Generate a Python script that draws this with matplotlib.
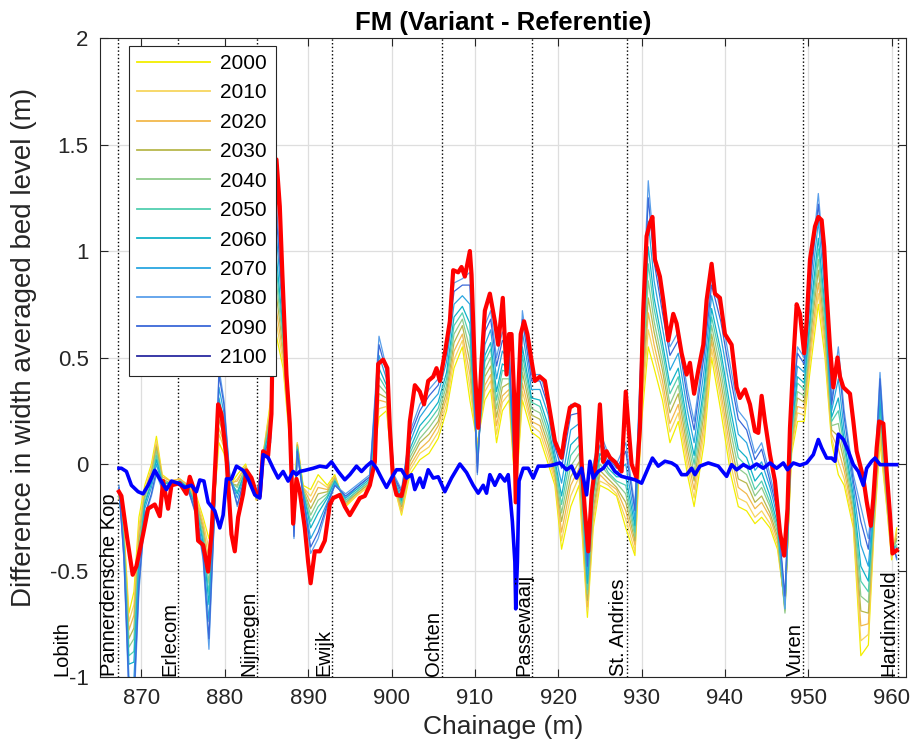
import matplotlib
matplotlib.use("Agg")
import matplotlib.pyplot as plt

plt.rcParams['font.family'] = ['Liberation Sans', 'DejaVu Sans']

# chainage of the yearly profiles (km)
km_years = [867.3, 867.9, 868.5, 869.1, 869.7, 870.4, 871.2, 871.8, 872.5, 873.5,
            874.6, 875.6, 876.6, 877.4, 878.1, 878.7, 879.3, 879.9, 880.6, 881.5,
            882.5, 883.8, 884.8, 885.5, 886.2, 887.0, 887.8, 888.3, 888.7, 889.4,
            890.3, 891.2, 892.3, 893.2, 894.5, 895.8, 897.4, 898.5, 899.4, 900.3,
            901.2, 902.2, 903.4, 904.5, 905.6, 906.6, 907.5, 908.5, 909.4, 910.3,
            911.2, 911.9, 912.6, 913.3, 914.1, 914.9, 915.7, 916.8, 917.8, 918.8,
            919.6, 920.4, 921.5, 922.5, 923.5, 924.2, 925.0, 926.0, 927.0, 928.1,
            929.2, 930.0, 930.8, 931.5, 932.5, 933.4, 934.4, 935.5, 936.3, 937.5,
            938.4, 939.5, 940.7, 941.6, 942.6, 943.6, 944.4, 945.4, 946.3, 947.2,
            948.0, 948.7, 949.5, 950.4, 951.2, 952.0, 952.8, 953.6, 954.3, 955.4,
            956.3, 957.2, 957.9, 958.6, 959.4, 960.0, 960.6]

y2000 = [-0.15, -0.30, -0.70, -0.60, -0.25, -0.10, 0.00, 0.13, -0.05, -0.08,
         -0.07, -0.10, -0.15, -0.25, -0.35, -0.20, 0.10, 0.05, -0.10, -0.05,
         0.00, -0.17, 0.10, 0.30, 0.60, 0.45, 0.10, -0.20, 0.10, -0.10,
         -0.12, -0.05, -0.10, -0.05, -0.20, -0.15, -0.10, 0.22, 0.25, -0.10,
         -0.24, -0.05, 0.02, 0.05, 0.12, 0.25, 0.45, 0.55, 0.30, 0.10,
         0.30, 0.35, 0.10, 0.25, 0.30, -0.15, 0.30, 0.15, 0.12, 0.00,
         -0.10, -0.40, -0.20, -0.10, -0.72, -0.30, -0.10, -0.12, -0.15, -0.30,
         -0.43, 0.20, 0.55, 0.45, 0.30, 0.10, 0.20, -0.05, -0.20, 0.10,
         0.50, 0.25, -0.05, -0.20, -0.22, -0.28, -0.25, -0.30, -0.40, -0.66,
         0.05, 0.20, 0.20, 0.50, 0.75, 0.50, 0.10, -0.05, -0.10, -0.30,
         -0.90, -0.85, -0.30, 0.10, -0.20, -0.45, -0.30]
y2010 = [-0.15, -0.32, -0.74, -0.66, -0.29, -0.12, -0.02, 0.11, -0.06, -0.08,
         -0.07, -0.10, -0.16, -0.27, -0.40, -0.21, 0.14, 0.08, -0.10, -0.07,
         -0.01, -0.17, 0.10, 0.28, 0.66, 0.48, 0.11, -0.22, 0.10, -0.11,
         -0.15, -0.08, -0.11, -0.06, -0.19, -0.15, -0.10, 0.26, 0.27, -0.10,
         -0.23, -0.03, 0.05, 0.08, 0.15, 0.28, 0.49, 0.58, 0.36, 0.09,
         0.34, 0.39, 0.14, 0.29, 0.33, -0.15, 0.34, 0.18, 0.15, 0.03,
         -0.08, -0.36, -0.15, -0.06, -0.69, -0.27, -0.08, -0.10, -0.14, -0.26,
         -0.41, 0.24, 0.63, 0.51, 0.35, 0.15, 0.24, -0.01, -0.16, 0.15,
         0.54, 0.30, 0.00, -0.16, -0.18, -0.25, -0.22, -0.28, -0.38, -0.67,
         0.07, 0.24, 0.23, 0.55, 0.80, 0.54, 0.12, 0.01, -0.07, -0.28,
         -0.83, -0.80, -0.28, 0.13, -0.19, -0.44, -0.32]
y2020 = [-0.14, -0.33, -0.78, -0.71, -0.32, -0.13, -0.03, 0.09, -0.06, -0.08,
         -0.07, -0.10, -0.17, -0.29, -0.45, -0.22, 0.17, 0.10, -0.09, -0.08,
         -0.01, -0.17, 0.09, 0.26, 0.72, 0.51, 0.12, -0.23, 0.09, -0.11,
         -0.18, -0.11, -0.12, -0.06, -0.19, -0.14, -0.09, 0.30, 0.29, -0.09,
         -0.22, -0.01, 0.07, 0.11, 0.18, 0.31, 0.53, 0.61, 0.42, 0.07,
         0.37, 0.42, 0.18, 0.32, 0.35, -0.14, 0.38, 0.20, 0.18, 0.06,
         -0.06, -0.32, -0.10, -0.02, -0.67, -0.24, -0.05, -0.09, -0.12, -0.22,
         -0.38, 0.28, 0.71, 0.56, 0.39, 0.19, 0.28, 0.03, -0.12, 0.19,
         0.58, 0.34, 0.05, -0.11, -0.14, -0.21, -0.18, -0.25, -0.36, -0.68,
         0.09, 0.27, 0.26, 0.59, 0.85, 0.58, 0.14, 0.07, -0.03, -0.25,
         -0.76, -0.75, -0.26, 0.17, -0.17, -0.43, -0.33]
y2030 = [-0.14, -0.35, -0.82, -0.77, -0.36, -0.15, -0.05, 0.08, -0.07, -0.09,
         -0.08, -0.11, -0.18, -0.31, -0.51, -0.23, 0.21, 0.13, -0.09, -0.10,
         -0.02, -0.16, 0.09, 0.24, 0.79, 0.54, 0.13, -0.25, 0.09, -0.12,
         -0.21, -0.14, -0.13, -0.07, -0.18, -0.14, -0.09, 0.33, 0.31, -0.09,
         -0.20, 0.01, 0.10, 0.14, 0.20, 0.34, 0.57, 0.65, 0.48, 0.06,
         0.41, 0.46, 0.22, 0.36, 0.38, -0.14, 0.43, 0.23, 0.21, 0.09,
         -0.04, -0.27, -0.06, 0.01, -0.64, -0.21, -0.03, -0.07, -0.11, -0.18,
         -0.36, 0.32, 0.78, 0.62, 0.44, 0.24, 0.33, 0.07, -0.08, 0.24,
         0.61, 0.39, 0.10, -0.07, -0.09, -0.18, -0.15, -0.23, -0.34, -0.69,
         0.11, 0.31, 0.29, 0.64, 0.91, 0.62, 0.16, 0.13, 0.01, -0.23,
         -0.69, -0.70, -0.24, 0.20, -0.16, -0.42, -0.35]
y2040 = [-0.13, -0.36, -0.86, -0.82, -0.39, -0.16, -0.06, 0.06, -0.08, -0.09,
         -0.08, -0.11, -0.19, -0.33, -0.56, -0.24, 0.24, 0.15, -0.08, -0.11,
         -0.02, -0.16, 0.08, 0.22, 0.85, 0.57, 0.14, -0.26, 0.08, -0.12,
         -0.24, -0.17, -0.14, -0.07, -0.18, -0.13, -0.08, 0.37, 0.33, -0.08,
         -0.19, 0.03, 0.12, 0.17, 0.23, 0.37, 0.61, 0.68, 0.54, 0.04,
         0.44, 0.50, 0.26, 0.40, 0.40, -0.13, 0.47, 0.26, 0.24, 0.12,
         -0.02, -0.23, -0.01, 0.05, -0.61, -0.18, 0.00, -0.05, -0.09, -0.14,
         -0.34, 0.36, 0.86, 0.67, 0.48, 0.28, 0.37, 0.11, -0.04, 0.28,
         0.65, 0.44, 0.15, -0.02, -0.05, -0.15, -0.11, -0.20, -0.32, -0.70,
         0.13, 0.34, 0.32, 0.68, 0.96, 0.66, 0.18, 0.19, 0.04, -0.20,
         -0.62, -0.65, -0.22, 0.23, -0.14, -0.41, -0.36]
y2050 = [-0.13, -0.38, -0.90, -0.88, -0.43, -0.18, -0.08, 0.04, -0.09, -0.09,
         -0.08, -0.11, -0.20, -0.35, -0.61, -0.25, 0.28, 0.18, -0.08, -0.13,
         -0.03, -0.16, 0.08, 0.20, 0.91, 0.60, 0.15, -0.28, 0.08, -0.13,
         -0.27, -0.20, -0.15, -0.08, -0.17, -0.13, -0.08, 0.41, 0.35, -0.08,
         -0.18, 0.05, 0.15, 0.20, 0.26, 0.40, 0.65, 0.71, 0.60, 0.03,
         0.48, 0.54, 0.30, 0.44, 0.43, -0.13, 0.51, 0.29, 0.27, 0.15,
         0.00, -0.19, 0.04, 0.09, -0.59, -0.15, 0.03, -0.04, -0.08, -0.10,
         -0.32, 0.40, 0.94, 0.73, 0.53, 0.33, 0.41, 0.15, 0.00, 0.33,
         0.69, 0.49, 0.20, 0.03, -0.01, -0.12, -0.08, -0.18, -0.30, -0.68,
         0.15, 0.38, 0.35, 0.73, 1.01, 0.70, 0.20, 0.25, 0.08, -0.18,
         -0.55, -0.60, -0.20, 0.27, -0.13, -0.40, -0.38]
y2060 = [-0.12, -0.39, -0.94, -0.93, -0.46, -0.19, -0.09, 0.02, -0.09, -0.09,
         -0.08, -0.11, -0.21, -0.37, -0.66, -0.26, 0.31, 0.20, -0.07, -0.14,
         -0.03, -0.16, 0.07, 0.18, 0.97, 0.63, 0.16, -0.29, 0.07, -0.13,
         -0.30, -0.23, -0.16, -0.08, -0.16, -0.12, -0.07, 0.45, 0.37, -0.07,
         -0.17, 0.07, 0.18, 0.23, 0.29, 0.43, 0.69, 0.74, 0.66, 0.01,
         0.51, 0.57, 0.34, 0.47, 0.45, -0.12, 0.55, 0.31, 0.30, 0.18,
         0.02, -0.15, 0.09, 0.13, -0.56, -0.12, 0.05, -0.02, -0.06, -0.06,
         -0.29, 0.44, 1.02, 0.78, 0.57, 0.37, 0.45, 0.19, 0.04, 0.37,
         0.73, 0.53, 0.25, 0.07, 0.03, -0.08, -0.04, -0.15, -0.28, -0.66,
         0.17, 0.41, 0.38, 0.77, 1.06, 0.74, 0.22, 0.31, 0.11, -0.15,
         -0.48, -0.55, -0.18, 0.30, -0.11, -0.39, -0.39]
y2070 = [-0.11, -0.41, -1.00, -1.01, -0.51, -0.21, -0.11, 0.00, -0.10, -0.10,
         -0.09, -0.12, -0.23, -0.40, -0.74, -0.28, 0.36, 0.24, -0.06, -0.16,
         -0.04, -0.16, 0.06, 0.15, 1.07, 0.68, 0.18, -0.31, 0.06, -0.14,
         -0.35, -0.28, -0.18, -0.09, -0.16, -0.11, -0.06, 0.51, 0.40, -0.06,
         -0.15, 0.10, 0.22, 0.28, 0.33, 0.48, 0.75, 0.79, 0.75, -0.01,
         0.56, 0.63, 0.40, 0.53, 0.49, -0.11, 0.62, 0.35, 0.35, 0.23,
         0.05, -0.09, 0.16, 0.19, -0.52, -0.08, 0.09, 0.01, -0.04, 0.00,
         -0.26, 0.50, 1.14, 0.86, 0.64, 0.44, 0.52, 0.25, 0.10, 0.44,
         0.79, 0.60, 0.33, 0.14, 0.10, -0.03, 0.01, -0.11, -0.25, -0.64,
         0.20, 0.46, 0.43, 0.84, 1.14, 0.80, 0.25, 0.40, 0.16, -0.11,
         -0.38, -0.48, -0.15, 0.35, -0.09, -0.38, -0.41]
y2080 = [-0.10, -0.45, -1.10, -1.15, -0.60, -0.25, -0.15, -0.05, -0.12, -0.10,
         -0.09, -0.12, -0.25, -0.45, -0.87, -0.30, 0.45, 0.30, -0.05, -0.20,
         -0.05, -0.15, 0.05, 0.10, 1.22, 0.75, 0.20, -0.35, 0.05, -0.15,
         -0.42, -0.35, -0.20, -0.10, -0.14, -0.10, -0.05, 0.60, 0.45, -0.05,
         -0.12, 0.15, 0.28, 0.35, 0.40, 0.55, 0.85, 0.87, 0.90, -0.05,
         0.65, 0.72, 0.50, 0.62, 0.55, -0.10, 0.72, 0.42, 0.42, 0.30,
         0.10, 0.02, 0.28, 0.28, -0.45, 0.00, 0.15, 0.05, 0.00, 0.10,
         -0.20, 0.60, 1.33, 1.00, 0.75, 0.55, 0.62, 0.35, 0.20, 0.55,
         0.88, 0.72, 0.45, 0.25, 0.20, 0.05, 0.10, -0.05, -0.20, -0.68,
         0.25, 0.55, 0.50, 0.95, 1.27, 0.90, 0.30, 0.55, 0.25, -0.05,
         -0.20, -0.35, -0.10, 0.43, -0.05, -0.35, -0.45]
y2090 = [-0.11, -0.44, -1.06, -1.10, -0.57, -0.24, -0.14, -0.03, -0.11, -0.10,
         -0.09, -0.12, -0.24, -0.43, -0.82, -0.29, 0.42, 0.28, -0.06, -0.19,
         -0.05, -0.15, 0.06, 0.12, 1.16, 0.72, 0.19, -0.34, 0.06, -0.15,
         -0.39, -0.32, -0.19, -0.10, -0.15, -0.11, -0.06, 0.56, 0.43, -0.06,
         -0.13, 0.13, 0.25, 0.32, 0.37, 0.52, 0.81, 0.84, 0.84, -0.04,
         0.62, 0.68, 0.46, 0.58, 0.53, -0.11, 0.68, 0.39, 0.39, 0.27,
         0.08, -0.02, 0.23, 0.24, -0.48, -0.03, 0.13, 0.03, -0.02, 0.06,
         -0.22, 0.56, 1.25, 0.95, 0.71, 0.51, 0.58, 0.31, 0.16, 0.51,
         0.84, 0.67, 0.40, 0.21, 0.16, 0.02, 0.07, -0.08, -0.22, -0.62,
         0.23, 0.52, 0.47, 0.91, 1.22, 0.86, 0.28, 0.49, 0.22, -0.08,
         -0.27, -0.40, -0.12, 0.40, -0.07, -0.36, -0.44]

# final year, drawn thick red on top
km_2100 = [867.3, 867.6, 868.3, 868.95, 869.4, 870.2, 870.8, 871.6, 872.2, 872.6,
           873.2, 873.6, 874.6, 875.4, 875.8, 876.4, 876.8, 877.4, 878.0, 878.4,
           878.8, 879.2, 879.6, 880.2, 880.8, 881.2, 881.6, 882.2, 882.6, 883.2,
           883.8, 884.2, 884.6, 885.2, 885.6, 885.8, 886.2, 886.6, 886.9, 887.4,
           887.8, 888.2, 888.6, 889.0, 889.6, 890.0, 890.3, 890.8, 891.4, 892.0,
           892.6, 893.0, 893.8, 894.4, 895.0, 895.6, 896.2, 896.8, 897.4, 898.0,
           898.4, 899.0, 899.5, 899.8, 900.2, 900.6, 901.2, 901.8, 902.2, 902.8,
           903.4, 903.9, 904.4, 905.0, 905.4, 905.8, 906.4, 907.0, 907.4, 908.0,
           908.4, 908.8, 909.4, 909.6, 910.0, 910.4, 910.8, 911.2, 911.8, 912.4,
           912.8, 913.35, 913.8, 914.1, 914.4, 914.7, 914.9, 915.2, 915.5, 915.9,
           916.3, 916.8, 917.2, 917.8, 918.4, 919.0, 919.6, 920.4, 920.8, 921.4,
           922.0, 922.5, 922.8, 923.2, 923.6, 924.0, 924.6, 925.0, 925.4, 925.8,
           926.2, 926.8, 927.6, 928.1, 928.4, 928.8, 929.4, 929.8, 930.2, 930.6,
           931.0, 931.3, 931.6, 932.2, 932.6, 933.2, 933.8, 934.2, 934.8, 935.4,
           935.8, 936.3, 936.8, 937.4, 937.8, 938.4, 938.8, 939.4, 940.0, 940.8,
           941.4, 941.8, 942.4, 943.0, 943.6, 944.0, 944.4, 944.8, 945.4, 946.0,
           946.6, 947.1, 947.5, 947.8, 948.2, 948.6, 949.0, 949.5, 949.8, 950.2,
           950.8, 951.2, 951.6, 951.9, 952.2, 952.6, 953.0, 953.5, 953.8, 954.2,
           955.0, 955.4, 955.8, 956.6, 957.0, 957.5, 957.8, 958.2, 958.5, 959.0,
           959.4, 959.8, 960.1, 960.6]
y2100 = [-0.13, -0.15, -0.35, -0.52, -0.48, -0.33, -0.21, -0.19, -0.245, -0.08,
         -0.21, -0.10, -0.09, -0.14, -0.06, -0.13, -0.36, -0.38, -0.505, -0.33,
         -0.05, 0.28, 0.235, 0.03, -0.33, -0.41, -0.25, -0.14, -0.03, -0.065,
         -0.14, -0.15, 0.06, 0.04, 0.235, 0.74, 1.43, 1.21, 0.90, 0.42,
         0.19, -0.28, -0.07, -0.13, -0.30, -0.46, -0.56, -0.41, -0.41, -0.36,
         -0.19, -0.16, -0.145, -0.20, -0.24, -0.20, -0.16, -0.15, -0.10, 0.01,
         0.47, 0.49, 0.45, 0.17, -0.08, -0.145, -0.15, -0.05, 0.20, 0.37,
         0.34, 0.28, 0.39, 0.41, 0.45, 0.39, 0.52, 0.67, 0.91, 0.90,
         0.925, 0.88, 1.00, 0.89, 0.44, 0.17, 0.48, 0.72, 0.80, 0.67,
         0.56, 0.78, 0.42, 0.61, 0.61, 0.33, -0.18, 0.33, 0.61, 0.67,
         0.61, 0.485, 0.39, 0.41, 0.39, 0.25, 0.107, 0.03, 0.14, 0.265,
         0.28, 0.27, 0.01, -0.22, -0.41, -0.145, 0.04, 0.28, 0.01, 0.06,
         0.03, 0.01, -0.035, 0.34, 0.19, 0.00, -0.066, 0.17, 0.72, 1.07,
         1.13, 1.16, 0.96, 0.88, 0.77, 0.58, 0.705, 0.66, 0.52, 0.42,
         0.475, 0.33, 0.44, 0.56, 0.77, 0.94, 0.80, 0.78, 0.61, 0.56,
         0.36, 0.31, 0.35, 0.28, 0.154, 0.146, 0.32, 0.20, 0.044, -0.08,
         -0.32, -0.43, -0.21, 0.17, 0.485, 0.75, 0.705, 0.52, 0.67, 0.96,
         1.115, 1.16, 1.145, 1.02, 0.80, 0.55, 0.36, 0.50, 0.41, 0.36,
         0.33, 0.20, 0.06, -0.066, -0.176, -0.29, -0.16, 0.076, 0.20, 0.19,
         -0.035, -0.24, -0.42, -0.405]

# first profile, thick blue
km_first = [867.3, 867.6, 868.2, 868.8, 869.6, 870.2, 870.8, 871.6, 872.2, 873.0,
            873.6, 874.4, 875.2, 876.0, 876.6, 877.0, 877.5, 878.0, 878.8, 879.4,
            879.8, 880.2, 880.8, 881.4, 882.2, 882.8, 883.6, 884.2, 884.6, 885.2,
            885.8, 886.4, 887.0, 887.6, 888.2, 888.6, 889.0, 889.6, 890.6, 891.4,
            892.2, 892.8, 893.6, 894.4, 895.0, 895.8, 896.4, 897.0, 897.6, 898.2,
            898.8, 899.4, 900.0, 900.6, 901.2, 901.8, 902.4, 902.8, 903.4, 903.8,
            904.4, 905.0, 905.6, 906.4, 907.2, 908.2, 909.0, 909.8, 910.4, 911.0,
            911.4, 911.8, 912.4, 913.0, 913.6, 914.0, 914.5, 914.8, 914.9, 915.1,
            915.3, 915.8, 916.4, 917.0, 917.6, 918.4, 919.2, 920.2, 921.0, 921.6,
            922.2, 922.8, 923.4, 923.8, 924.2, 924.8, 925.4, 926.0, 926.8, 927.6,
            928.4, 929.2, 930.0, 930.6, 931.3, 932.0, 932.8, 933.6, 934.2, 934.8,
            935.4, 936.0, 936.4, 937.0, 938.0, 939.2, 940.2, 940.8, 941.4, 942.2,
            943.0, 943.8, 944.6, 945.4, 946.2, 947.0, 947.5, 948.2, 949.0, 949.8,
            950.6, 951.2, 951.6, 952.2, 952.8, 953.2, 953.6, 954.2, 954.8, 955.4,
            956.0, 956.6, 957.0, 957.6, 958.0, 958.6, 959.4, 960.6]
y_first = [-0.02, -0.02, -0.035, -0.10, -0.13, -0.14, -0.10, -0.03, -0.07, -0.12,
           -0.08, -0.09, -0.11, -0.10, -0.13, -0.075, -0.08, -0.18, -0.22, -0.30,
           -0.24, -0.07, -0.07, -0.01, -0.03, -0.07, -0.145, -0.16, 0.044, 0.03,
           -0.02, -0.066, -0.035, -0.08, -0.035, -0.05, -0.035, -0.03, -0.02, -0.01,
           -0.015, 0.01, -0.035, -0.074, -0.05, -0.01, -0.035, -0.01, 0.01, -0.02,
           -0.066, -0.11, -0.066, -0.027, -0.027, -0.066, -0.05, -0.12, -0.066, -0.11,
           -0.027, -0.066, -0.06, -0.13, -0.066, 0.0, -0.04, -0.10, -0.137, -0.10,
           -0.137, -0.05, -0.10, -0.05, -0.08, -0.05, -0.27, -0.46, -0.68, -0.46,
           -0.08, -0.02, -0.02, -0.066, -0.01, -0.01, -0.006, 0.005, -0.027, -0.01,
           -0.066, -0.02, -0.145, 0.013, -0.066, -0.035, -0.02, 0.013, -0.035, -0.058,
           -0.066, -0.074, -0.09, -0.035, 0.028, -0.01, 0.013, 0.005, -0.01, -0.05,
           -0.05, -0.02, -0.05, -0.01, 0.005, -0.01, -0.058, -0.003, -0.027, -0.003,
           -0.02, 0.0, -0.02, 0.005, -0.02, 0.005, -0.027, 0.005, -0.006, 0.005,
           0.044, 0.115, 0.076, 0.028, 0.028, 0.013, 0.14, 0.115, 0.06, -0.003,
           -0.035, -0.10, -0.02, 0.013, 0.028, -0.003, -0.003, -0.003]

years = ['2000', '2010', '2020', '2030', '2040', '2050', '2060', '2070', '2080', '2090', '2100']
year_colors = ['#f2ee00', '#f7d55e', '#f2b94c', '#b8b84c', '#8fcb8c', '#52cfb0',
               '#12b2c8', '#2aa6e0', '#5a9fea', '#3a68d8', '#2a2aa0']

stations = ['Lobith', 'Pannerdensche Kop', 'Erlecom', 'Nijmegen', 'Ewijk', 'Ochten',
            'Passewaaij', 'St. Andries', 'Vuren', 'Hardinxveld']
station_km = [861.5, 867.2, 874.4, 883.9, 892.9, 906.0, 916.9, 928.2, 949.4, 960.7]

fig = plt.figure(figsize=(9.15, 7.56), dpi=100)
ax = fig.add_axes([0.109, 0.1045, 0.881, 0.8452])

series = [y2000, y2010, y2020, y2030, y2040, y2050, y2060, y2070, y2080, y2090]
handles = []
for yr, col, vals in zip(years[:-1], year_colors[:-1], series):
    h, = ax.plot(km_years, vals, color=col, lw=0.9, label=yr)
    handles.append(h)
h, = ax.plot(km_2100, y2100, color=year_colors[-1], lw=0.9, label='2100')
handles.append(h)

ax.plot(km_2100, y2100, color='#ff0000', lw=3.0, zorder=5)
ax.plot(km_first, y_first, color='#0000ff', lw=2.6, zorder=6)

# station markers; text sits just left of its dotted line
for name, km in zip(stations, station_km):
    ax.axvline(km, color='k', ls=':', lw=1.0, zorder=1)
    ax.text(km + 0.15, -0.995, name, rotation=90, ha='right', va='bottom',
            fontsize=14.5, color='k', zorder=7)

ax.set_xlim(865, 961.7)
ax.set_ylim(-1, 2)
ax.set_xticks(range(870, 961, 10))
ax.set_yticks([-1, -0.5, 0, 0.5, 1, 1.5, 2])
ax.set_yticklabels(['-1', '-0.5', '0', '0.5', '1', '1.5', '2'])
ax.tick_params(direction='in', top=True, right=True, length=6, width=0.8,
               labelsize=16, colors='#262626', pad=8)
ax.grid(True, color='#dedede', lw=0.9)
ax.set_axisbelow(True)
for sp in ax.spines.values():
    sp.set_color('#262626')
    sp.set_linewidth(0.8)

ax.set_xlabel('Chainage (m)', fontsize=19, color='#262626', labelpad=4)
ax.set_ylabel('Difference in width averaged bed level (m)', fontsize=20,
              color='#262626')
ax.yaxis.set_label_coords(-0.078, 0.516)
ax.set_title('FM (Variant - Referentie)', fontsize=18.5, fontweight='bold', pad=6)

leg = ax.legend(handles=handles, loc='upper left', bbox_to_anchor=(0.036, 0.988),
                fontsize=15, handlelength=3.5, labelspacing=0.5, borderpad=0.4,
                handletextpad=0.5, fancybox=False, framealpha=1, edgecolor='#262626',
                borderaxespad=0)
leg.get_frame().set_linewidth(0.8)
for line in leg.get_lines():
    line.set_linewidth(1.3)

fig.savefig('out.png', dpi=100)
